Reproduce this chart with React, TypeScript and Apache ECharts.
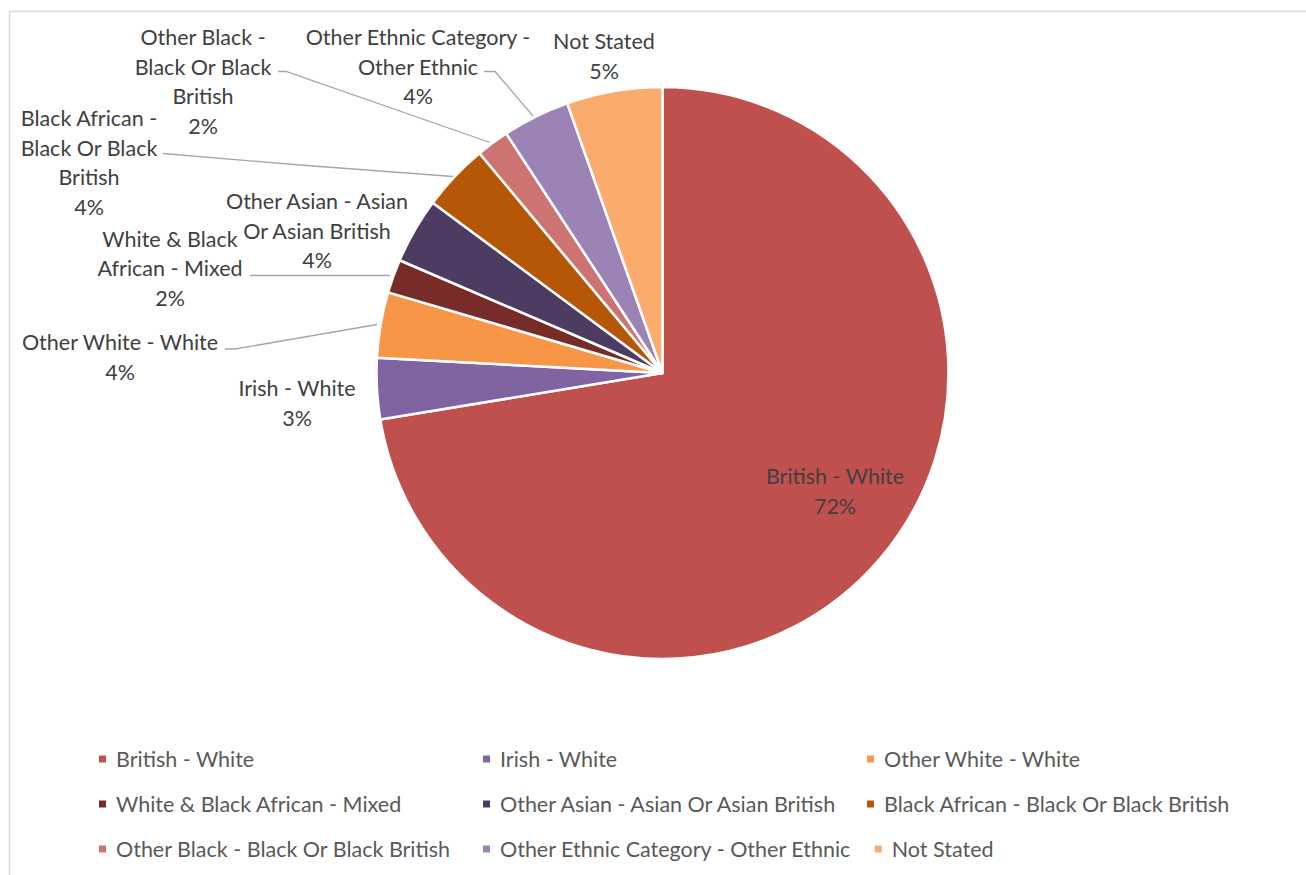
import React, { useEffect, useRef } from "react";
import * as echarts from "echarts";

const categories = [
  "British - White",
  "Irish - White",
  "Other White - White",
  "White & Black African - Mixed",
  "Other Asian - Asian Or Asian British",
  "Black African - Black Or Black British",
  "Other Black - Black Or Black British",
  "Other Ethnic Category - Other Ethnic",
  "Not Stated",
];

const values = [72.4, 3.45, 3.7, 1.9, 3.7, 3.8, 1.85, 3.8, 5.4];

const labelNames = [
  "British - White",
  "Irish - White",
  "Other White - White",
  "White & Black\nAfrican - Mixed",
  "Other Asian - Asian\nOr Asian British",
  "Black African -\nBlack Or Black\nBritish",
  "Other Black -\nBlack Or Black\nBritish",
  "Other Ethnic Category -\nOther Ethnic",
  "Not Stated",
];

const colors = [
  "#C0504D",
  "#8064A2",
  "#F79646",
  "#772C2A",
  "#4D3B62",
  "#B65708",
  "#CD7371",
  "#9C83B5",
  "#F9AC6D",
];

// label anchor positions (centre of text block) and leader lines
const labelPos: { x: number; y: number; line?: number[][] }[] = [
  { x: 835, y: 491 },
  { x: 297, y: 403 },
  { x: 120, y: 357, line: [[377, 324.5], [235, 349], [225, 349]] },
  { x: 170, y: 268, line: [[390, 275.5], [320, 275.5], [250, 275.5]] },
  { x: 317, y: 230.5 },
  { x: 89, y: 162.5, line: [[453, 176.5], [300, 165], [163, 153.5]] },
  { x: 203, y: 81.5, line: [[490, 142.5], [286, 71.5], [278, 71.5]] },
  { x: 418, y: 66.5, line: [[533, 116], [495, 71.5], [484, 71.5]] },
  { x: 604, y: 56 },
];

export default function App() {
  const ref = useRef<HTMLDivElement>(null);

  useEffect(() => {
    if (!ref.current) return;
    const chart = echarts.init(ref.current, undefined, { renderer: "svg" });
    const total = values.reduce((a, b) => a + b, 0);
    const font = "Lato, 'Open Sans', sans-serif";

    const data = categories.map((name, i) => ({
      name,
      value: values[i],
      itemStyle: { color: colors[i] },
      label: {
        formatter: () => `${labelNames[i]}\n${Math.round((values[i] / total) * 100)}%`,
      },
      labelLine: { show: !!labelPos[i].line },
    }));

    chart.setOption({
      animation: false,
      graphic: [
        {
          type: "rect",
          shape: { x: 9.5, y: 11.5, width: 1400, height: 1000 },
          style: { fill: "none", stroke: "#D9D9D9", lineWidth: 1.5 },
          silent: true,
        },
      ],
      legend: {
        left: 97,
        top: 747,
        width: 1170,
        padding: 0,
        orient: "horizontal",
        icon: "rect",
        itemWidth: 9,
        itemHeight: 9,
        itemGap: 21,
        textStyle: {
          fontFamily: font,
          fontSize: 21.5,
          color: "#595959",
          width: 344,
          lineHeight: 24,
          padding: [0, 0, 0, 4],
        },
        data: categories,
      },
      series: [
        {
          type: "pie",
          center: [662.5, 373],
          radius: 286,
          startAngle: 90,
          clockwise: true,
          avoidLabelOverlap: false,
          itemStyle: { borderColor: "#ffffff", borderWidth: 2.5 },
          label: {
            show: true,
            position: "outside",
            fontFamily: font,
            fontSize: 21.5,
            lineHeight: 29.5,
            color: "#404040",
            align: "center",
          },
          labelLine: {
            show: true,
            lineStyle: { color: "#A6A6A6", width: 1.3 },
          },
          labelLayout: (params: any) => {
            const p = labelPos[params.dataIndex];
            const r: any = {
              x: p.x,
              y: p.y,
              align: "center",
              verticalAlign: "middle",
            };
            if (p.line) r.labelLinePoints = p.line;
            return r;
          },
          emphasis: { disabled: true },
          data,
        },
      ],
    });

    return () => chart.dispose();
  }, []);

  return (
    <div
      ref={ref}
      style={{ position: "fixed", left: 0, top: 0, width: 1306, height: 875, background: "#fff" }}
    />
  );
}
